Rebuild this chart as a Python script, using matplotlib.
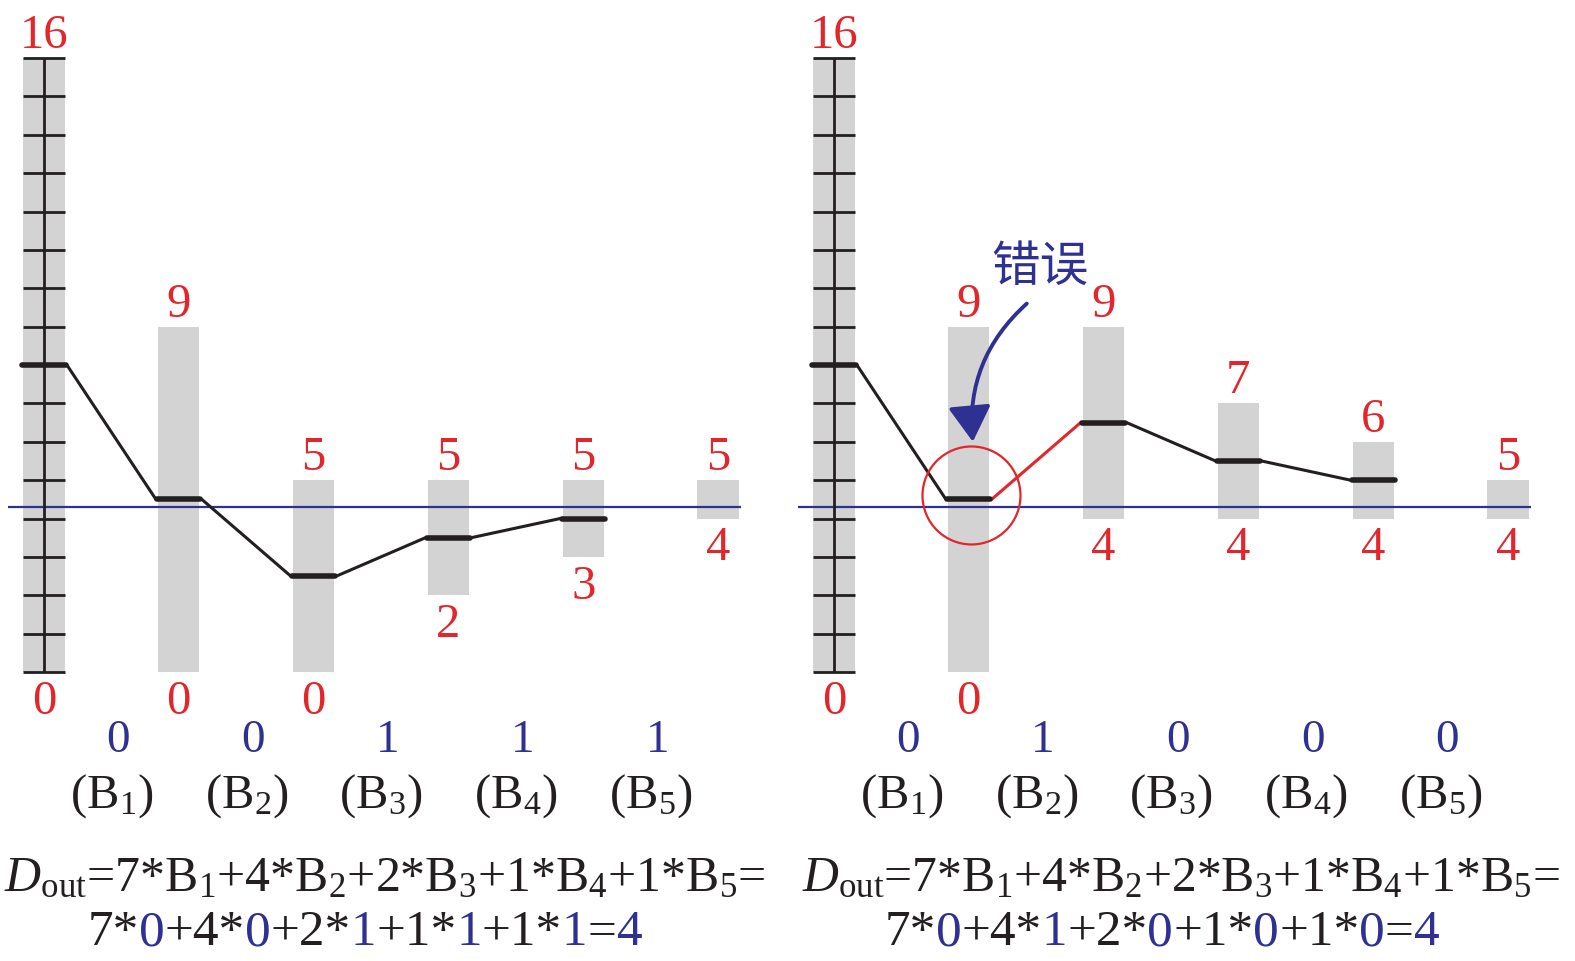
import matplotlib.pyplot as plt
from matplotlib.patches import Ellipse, FancyArrowPatch

plt.rcParams['font.family'] = ['Liberation Serif', 'Noto Sans CJK SC', 'DejaVu Sans']
plt.rcParams['mathtext.fontset'] = 'custom'
plt.rcParams['mathtext.rm'] = 'Liberation Serif'
plt.rcParams['mathtext.it'] = 'Liberation Serif:italic'
plt.rcParams['mathtext.bf'] = 'Liberation Serif:bold'

# values
columns = [0, 1, 2, 3, 4, 5]
left_top = [16, 9, 5, 5, 5, 5]
left_bottom = [0, 0, 0, 2, 3, 4]
left_level = [8, 4.5, 2.5, 3.5, 4]
left_bits = [0, 0, 1, 1, 1]

right_top = [16, 9, 9, 7, 6, 5]
right_bottom = [0, 0, 4, 4, 4, 4]
right_level = [8, 4.5, 6.5, 5.5, 5]
right_bits = [0, 1, 0, 0, 0]

weights = [7, 4, 2, 1, 1]
ruler_ticks = list(range(0, 17))
threshold = 4.3
d_out = 4

RED = '#E3262B'
BLUE = '#2E3192'
GRAY = '#D3D3D3'
BLACK = '#231F20'

W, H = 1575, 961
fig = plt.figure(figsize=(W / 100, H / 100), dpi=100)
renderer = fig.canvas.get_renderer()

# pixel calibration: column i at 44 + 134.8*i, value v at 289 + 38.375*v (from bottom)
def make_ax(left_px, width_px):
    ax = fig.add_axes([left_px / W, 0, width_px / W, 1])
    ax.set_xlim(-44 / 134.8, (width_px - 44) / 134.8)
    ax.set_ylim(-289 / 38.375, (H - 289) / 38.375)
    ax.set_axis_off()
    return ax


def draw_panel(ax, tops, bottoms, levels, bits, wrong=None):
    heights = [t - b for t, b in zip(tops, bottoms)]
    ax.bar(columns, heights, bottom=bottoms, width=0.305, color=GRAY, zorder=1)
    # ruler on first column
    ax.vlines(0, 0, 16, color=BLACK, lw=2.0, zorder=3)
    ax.hlines(ruler_ticks, -0.155, 0.155, color=BLACK, lw=2.0, zorder=3)
    ax.hlines(threshold, -0.27, 5.17, color=BLUE, lw=1.6, zorder=2)
    xs = columns[:len(levels)]
    ax.hlines(levels, [x - 0.16 for x in xs], [x + 0.16 for x in xs],
              color=BLACK, lw=4.0, capstyle='round', zorder=4)
    for i in range(len(levels) - 1):
        c = RED if i == wrong else BLACK
        ax.plot([xs[i] + 0.17, xs[i + 1] - 0.17], [levels[i], levels[i + 1]],
                color=c, lw=2.2, zorder=3)
    for x, t, b in zip(columns, tops, bottoms):
        ax.annotate(str(t), (x, t), xytext=(0, 10), textcoords='offset pixels',
                    ha='center', va='baseline', color=RED, fontsize=35)
        ax.annotate(str(b), (x, b), xytext=(0, -42), textcoords='offset pixels',
                    ha='center', va='baseline', color=RED, fontsize=35)
    for i, bit in enumerate(bits):
        ax.text(i + 0.55, -2.08, str(bit), color=BLUE, ha='center',
                va='baseline', fontsize=34)
        ax.text(i + 0.5, -3.54, '(B$_{%d}$)' % (i + 1), color=BLACK,
                ha='center', va='baseline', fontsize=35)


ax1 = make_ax(0, 787)
ax2 = make_ax(790, 785)
draw_panel(ax1, left_top, left_bottom, left_level, left_bits)
draw_panel(ax2, right_top, right_bottom, right_level, right_bits, wrong=1)

# error marker on right panel
ax2.add_patch(Ellipse((1.02, 4.6), 98 / 134.8, 98 / 38.375, fill=False,
                      ec=RED, lw=1.6, zorder=5))
ax2.add_patch(FancyArrowPatch((1.43, 9.6), (1.03, 6.0),
                              connectionstyle='arc3,rad=0.25',
                              arrowstyle='-|>,head_length=2.0,head_width=1.2',
                              mutation_scale=11, color=BLUE, lw=2.8,
                              shrinkA=0, shrinkB=0, zorder=5))
ax2.text(1.53, 10.55, '错误', color=BLUE, fontsize=35, ha='center', va='center',
         family=['Noto Sans CJK SC'])


# formulas, sized to the reference width
def fitted_text(xc_px, base_px, s, width_px):
    t = fig.text(xc_px / W, (H - base_px) / H, s, ha='center', va='baseline',
                 fontsize=40, color=BLACK)
    w = t.get_window_extent(renderer).width
    t.set_fontsize(40 * width_px / w)


line1 = '$D_{\\mathrm{out}}$=' + '+'.join('%d*B$_{%d}$' % (w, k + 1)
                                          for k, w in enumerate(weights)) + '='
fitted_text(385, 891, line1, 760)
fitted_text(1181, 891, line1, 757)


def colored_line(xc_px, base_px, bits, width_px):
    pieces = []
    for k, (w, b) in enumerate(zip(weights, bits)):
        pieces.append((('+' if k else '') + '%d*' % w, BLACK))
        pieces.append((str(b), BLUE))
    pieces.append(('=', BLACK))
    pieces.append((str(d_out), BLUE))
    texts = []
    for s, c in pieces:
        t = fig.text(0, (H - base_px) / H, s, color=c, fontsize=40,
                     ha='left', va='baseline')
        texts.append(t)
    total = sum(t.get_window_extent(renderer).width for t in texts)
    size = 40 * width_px / total
    for t in texts:
        t.set_fontsize(size)
    x = xc_px - width_px / 2
    for t in texts:
        t.set_x(x / W)
        x += t.get_window_extent(renderer).width


colored_line(365, 945, left_bits, 555)
colored_line(1162, 945, right_bits, 555)

fig.savefig('out.png', dpi=100)
